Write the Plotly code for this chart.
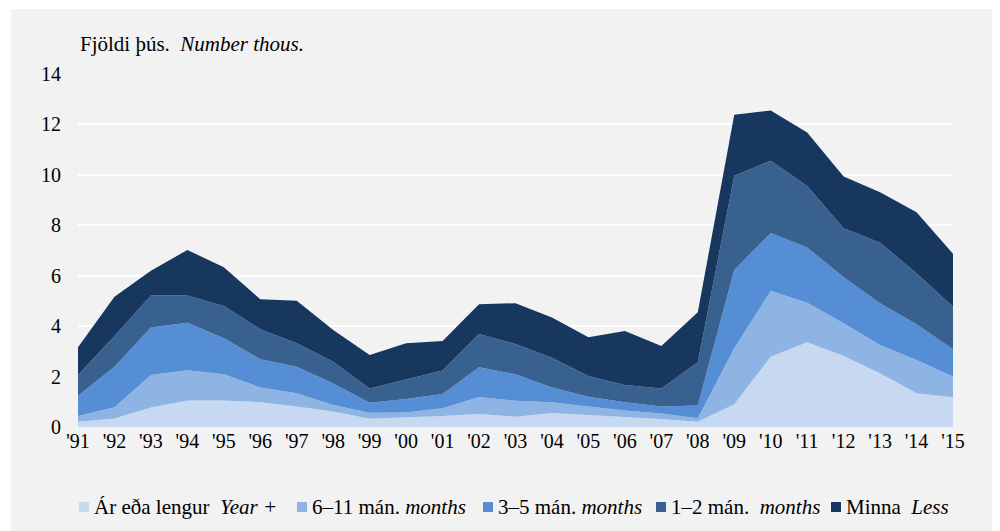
import plotly.graph_objects as go

years = ["'91", "'92", "'93", "'94", "'95", "'96", "'97", "'98", "'99", "'00", "'01", "'02",
         "'03", "'04", "'05", "'06", "'07", "'08", "'09", "'10", "'11", "'12", "'13", "'14", "'15"]

# thousands, by length of unemployment
year_plus = [0.21, 0.34, 0.77, 1.05, 1.05, 0.98, 0.81, 0.61, 0.33, 0.38, 0.44, 0.52, 0.41,
             0.56, 0.48, 0.38, 0.32, 0.21, 0.90, 2.79, 3.36, 2.82, 2.13, 1.34, 1.18]
months_6_11 = [0.23, 0.44, 1.29, 1.20, 1.04, 0.59, 0.53, 0.26, 0.24, 0.20, 0.30, 0.67, 0.63,
               0.42, 0.33, 0.27, 0.22, 0.14, 2.22, 2.61, 1.57, 1.29, 1.12, 1.32, 0.82]
months_3_5 = [0.80, 1.61, 1.89, 1.88, 1.43, 1.12, 1.05, 0.86, 0.39, 0.53, 0.57, 1.18, 1.05,
              0.59, 0.39, 0.33, 0.27, 0.50, 3.11, 2.29, 2.19, 1.83, 1.66, 1.42, 1.08]
months_1_2 = [0.82, 1.22, 1.27, 1.09, 1.28, 1.19, 0.93, 0.86, 0.57, 0.78, 0.93, 1.32, 1.20,
              1.18, 0.82, 0.69, 0.72, 1.72, 3.73, 2.87, 2.44, 1.94, 2.40, 2.02, 1.69]
less = [1.10, 1.56, 0.98, 1.80, 1.54, 1.19, 1.69, 1.26, 1.33, 1.43, 1.17, 1.18, 1.62,
        1.59, 1.54, 2.14, 1.68, 1.98, 2.42, 1.99, 2.12, 2.05, 2.00, 2.42, 2.10]

series = [
    ("Ár eða lengur  <i>Year +</i>", year_plus, "#c6d9f1"),
    ("6–11 mán. <i>months</i>", months_6_11, "#8eb4e3"),
    ("3–5 mán. <i>months</i>", months_3_5, "#558ed5"),
    ("1–2 mán.  <i>months</i>", months_1_2, "#386190"),
    ("Minna  <i>Less</i>", less, "#17375e"),
]

font_name = "Liberation Serif"
x = list(range(len(years)))

# plot area in pixels (figure coords), used to place the hand-made legend
PL, PW, PT, PH = 70, 875, 66, 353


def px(xp):
    return (xp - PL) / PW


def py(yp):
    return (PT + PH - yp) / PH


fig = go.Figure()
for name, vals, col in series:
    fig.add_trace(go.Scatter(
        x=x, y=vals, name=name, mode="lines", stackgroup="one",
        line=dict(width=0, color=col), fillcolor=col, showlegend=False,
    ))

shapes = [dict(type="rect", xref="paper", yref="paper", layer="below",
               x0=px(3), x1=px(987), y0=py(523), y1=py(1),
               fillcolor="#f2f2f2", line=dict(width=0))]
annotations = [dict(text="Fjöldi þús.  <i>Number thous.</i>", xref="paper", yref="paper",
                    x=px(70), y=py(36), xanchor="left", yanchor="middle",
                    showarrow=False, font=dict(size=21))]

# legend row: small squares followed by text
legend_left = [71, 289, 475, 648, 823]
for (name, vals, col), lx in zip(series, legend_left):
    shapes.append(dict(type="rect", xref="paper", yref="paper",
                       x0=px(lx), x1=px(lx + 10), y0=py(504), y1=py(494),
                       fillcolor=col, line=dict(width=0)))
    annotations.append(dict(text=name, xref="paper", yref="paper",
                            x=px(lx + 13), y=py(499), xanchor="left", yanchor="middle",
                            showarrow=False, font=dict(size=21)))

# page has an 8px body margin, so margins are reduced by that
fig.update_layout(
    width=1000, height=531,
    margin=dict(l=PL, r=1000 - PL - PW, t=PT, b=531 - PT - PH),
    paper_bgcolor="white",
    plot_bgcolor="#d9d9d9",
    font=dict(family=font_name, size=20, color="black"),
    showlegend=False,
    shapes=shapes,
    annotations=annotations,
)
fig.update_xaxes(range=[0, len(years) - 1], tickvals=x, ticktext=years, showgrid=False,
                 zeroline=False, ticks="", ticklen=0, tickfont=dict(size=20))
fig.update_yaxes(range=[0, 14], dtick=2, gridcolor="white", gridwidth=2, zeroline=False,
                 ticks="outside", ticklen=12, tickcolor="rgba(0,0,0,0)", tickfont=dict(size=20))

fig.write_html("out.html")
